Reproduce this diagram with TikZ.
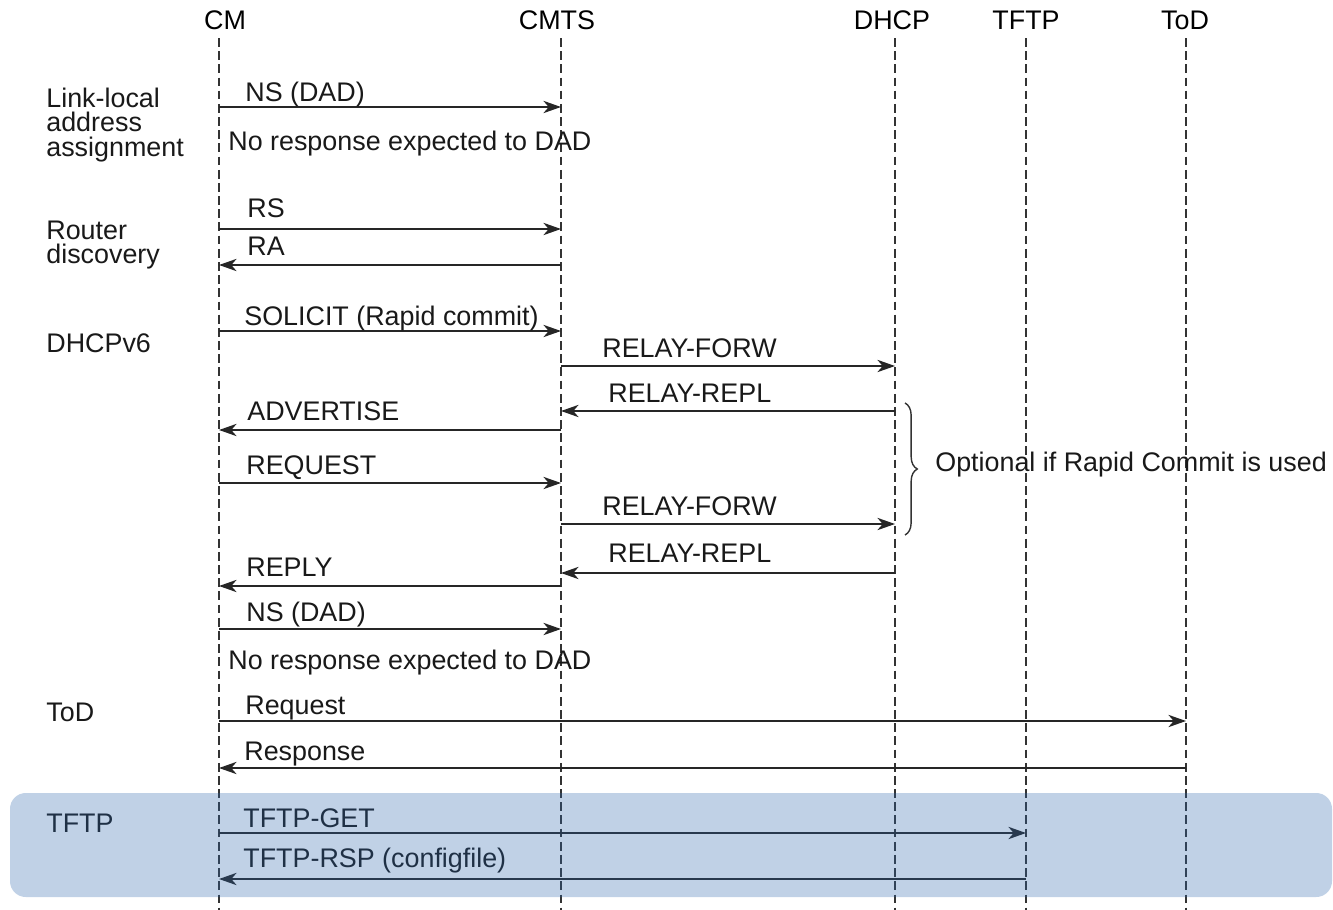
\documentclass[tikz,border=0pt]{standalone}
\usepackage{fontspec}
\setmainfont{Liberation Sans}
\usetikzlibrary{arrows.meta,decorations.pathreplacing}

\definecolor{bandblue}{RGB}{45,102,172}

\begin{document}
\begin{tikzpicture}[
        x=0.02cm, y=-0.02cm,
        font=\fontsize{15.3}{14}\selectfont,
        lifeline/.style={dash pattern=on 5pt off 2.5pt, line width=0.8pt, black!80},
        msg/.style={-{Stealth[length=10pt, width=7pt, inset=3pt]}, line width=1pt, black!85},
        lbl/.style={anchor=base west, inner sep=0pt, text=black!90},
        phase/.style={anchor=west, align=left, inner sep=0pt, text=black!90}
    ]
        \useasboundingbox (0,0) rectangle (1333,910);

        % lifelines
        \foreach \name/\x/\lx/\txt in {cm/219/225/CM, cmts/561/557/CMTS, dhcp/895/892/DHCP, tftp/1026/1026/TFTP, tod/1186/1185/ToD} {
            \node[anchor=base, inner sep=0pt] (\name-head) at (\lx, 29) {\txt};
            \coordinate (\name) at (\x, 38);
            \coordinate (\name-end) at (\x, 910);
            \draw[lifeline] (\name) -- (\name-end);
        }

        % phases
        \node[phase] (linklocal) at (46, 125) {Link-local\\address\\assignment};
        \node[phase] (router) at (46, 245) {Router\\discovery};
        \node[lbl] (dhcpv6) at (46, 352) {DHCPv6};
        \node[lbl] (todphase) at (46, 721) {ToD};
        \node[lbl] (tftpphase) at (46, 832) {TFTP};

        % messages
        \foreach \from/\to/\y/\lx/\ly/\txt [count=\i] in {
            cm/cmts/107/245/101/NS (DAD),
            cm/cmts/229/247/217/RS,
            cmts/cm/265/247/255/RA,
            cm/cmts/331/244/325/SOLICIT (Rapid commit),
            cmts/dhcp/366/602/357/RELAY-FORW,
            dhcp/cmts/411/608/402/RELAY-REPL,
            cmts/cm/430/247/420/ADVERTISE,
            cm/cmts/483/246/474/REQUEST,
            cmts/dhcp/524/602/515/RELAY-FORW,
            dhcp/cmts/573/608/562/RELAY-REPL,
            cmts/cm/586/246/576/REPLY,
            cm/cmts/629/246/621/NS (DAD),
            cm/tod/721/245/714/Request,
            tod/cm/768/244/760/Response,
            cm/tftp/833/243/827/TFTP-GET,
            tftp/cm/879/243/867/TFTP-RSP (configfile)} {
            \draw[msg] (\from |- 0,\y) -- (\to |- 0,\y);
            \node[lbl] (msg\i) at (\lx, \ly) {\txt};
        }

        \node[lbl] (nodad1) at (228, 150) {No response expected to DAD};
        \node[lbl] (nodad2) at (228, 669) {No response expected to DAD};

        % optional part
        \coordinate (bracetop) at (905, 403);
        \coordinate (bracebot) at (905, 535);
        \draw[line width=0.8pt, black!80, decorate, decoration={brace, amplitude=7pt}] (bracetop) -- (bracebot);
        \node[lbl] (optional) at (935, 471) {Optional if Rapid Commit is used};

        % TFTP band
        \fill[bandblue, fill opacity=0.3, rounded corners=9pt] (10, 793) rectangle (1332, 897);
    \end{tikzpicture}
\end{document}
